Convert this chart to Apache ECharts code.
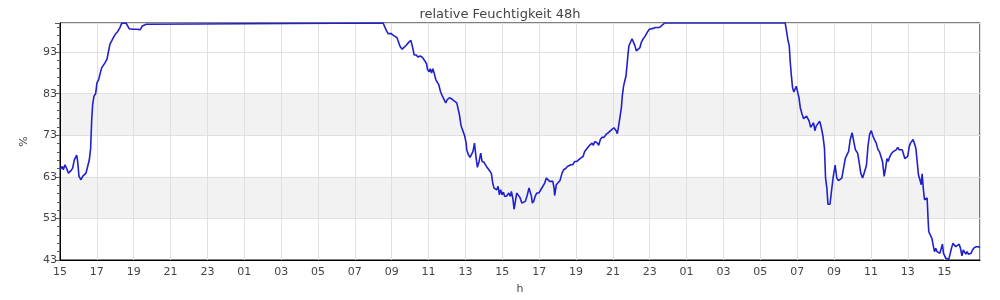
<!DOCTYPE html>
<html>
<head>
<meta charset="utf-8">
<script src="https://cdn.jsdelivr.net/npm/echarts@6/dist/echarts.min.js"></script>
<style>html,body{margin:0;padding:0;background:#fff}#chart{width:1000px;height:300px}</style>
</head>
<body>
<div id="chart"></div>
<script>
// hours since 15:00 of the first day, relative humidity in %
const humidityReadings = [
  [0,64.7],[0.127,65.5],[0.181,64.7],[0.271,65.9],[0.362,65.0],[0.452,63.9],[0.597,64.5],[0.687,65.1],
  [0.777,67.1],[0.904,68.2],[0.958,66.7],[1.030,63.1],[1.139,62.3],[1.229,63.1],[1.320,62.7],[1.410,63.9],
  [1.500,65.5],[1.591,67.1],[1.663,69.9],[1.717,76.4],[1.772,80.4],[1.844,82.4],[1.934,83.0],[2.006,85.6],
  [2.097,86.4],[2.187,88.0],[2.260,89.2],[2.368,89.6],[2.440,90.4],[2.549,91.3],[2.621,92.9],[2.711,94.9],
  [2.820,95.8],[2.910,96.6],[3.019,97.4],[3.127,97.9],[3.254,98.9],[3.344,99.9],[3.435,100],[3.579,100],
  [3.670,99.3],[3.760,98.6],[3.850,98.7],[3.941,98.5],[4.031,98.9],[4.140,98.5],[4.248,98.9],[4.357,98.4],
  [4.465,99.3],[4.573,99.7],[4.682,99.7],[4.790,100],
  [17.53,100],[17.62,99.7],[17.72,98.1],[17.81,97.4],[17.95,97.5],[18.04,97.7],[18.13,96.9],[18.28,96.5],
  [18.37,96.1],[18.46,94.3],[18.57,93.7],[18.67,93.8],[18.80,94.7],[18.93,95.4],[19.04,95.8],[19.13,94.2],
  [19.22,92.3],[19.33,92.3],[19.43,91.8],[19.54,92.1],[19.67,91.7],[19.78,91.0],[19.89,90.2],[19.94,88.8],
  [20.03,88.3],[20.09,89.0],[20.16,88.0],[20.23,89.0],[20.30,88.0],[20.39,86.4],[20.48,86.8],[20.55,85.2],
  [20.64,83.6],[20.73,82.6],[20.82,82.8],[20.93,80.8],[21.02,81.6],[21.13,82.0],[21.24,81.8],[21.35,81.4],
  [21.44,81.6],[21.53,80.8],[21.60,80.4],[21.67,78.0],[21.75,75.6],[21.80,74.8],[21.87,75.2],[21.96,72.8],
  [22.04,71.1],[22.07,69.5],[22.16,68.3],[22.25,67.7],[22.34,67.4],[22.41,69.1],[22.49,71.1],[22.58,67.5],
  [22.65,65.3],[22.74,66.7],[22.83,68.7],[22.90,66.7],[23.01,66.5],
  [23.14,65.5],[23.23,65.1],[23.34,64.3],[23.41,63.7],[23.48,61.5],[23.55,60.3],[23.63,60.7],[23.70,59.9],
  [23.77,60.7],[23.84,58.7],[23.91,59.9],[23.99,58.7],[24.06,59.3],[24.13,58.3],[24.24,58.4],[24.35,59.1],
  [24.44,58.3],[24.49,59.5],[24.57,57.9],[24.64,55.2],[24.71,57.1],[24.78,59.1],[24.87,59.1],[24.96,58.0],
  [25.06,56.7],[25.16,56.3],[25.25,57.1],[25.36,58.7],[25.45,60.3],[25.52,59.9],[25.58,58.3],[25.63,56.7],
  [25.71,57.2],[25.78,58.3],[25.87,59.1],[25.98,59.1],[26.09,59.9],[26.19,60.3],[26.30,61.5],[26.39,62.7],
  [26.48,62.3],[26.57,61.9],[26.66,61.5],[26.74,61.9],[26.81,60.3],[26.84,58.5],[26.93,61.1],[27.02,61.5],
  [27.13,62.1],[27.24,63.9],[27.33,64.7],[27.44,65.0],[27.53,65.5],[27.62,65.3],[27.71,65.9],[27.82,65.9],
  [27.93,66.7],[28.04,66.7],[28.14,67.1],[28.25,67.5],[28.38,67.9],
  [28.47,69.1],[28.56,68.7],[28.65,70.1],[28.76,70.7],[28.87,71.1],[28.94,70.6],[29.02,71.5],[29.10,71.7],
  [29.16,71.1],[29.23,70.6],[29.32,72.0],[29.41,72.5],[29.52,72.5],[29.63,73.2],[29.74,73.6],[29.84,74.0],
  [29.95,74.4],[30.06,74.8],[30.13,74.6],[30.19,74.0],[30.24,73.4],[30.31,75.2],[30.39,75.6],[30.46,79.6],
  [30.51,82.4],[30.58,84.8],[30.64,86.0],[30.71,87.2],[30.77,90.0],[30.82,92.5],[30.87,94.5],[30.95,95.3],
  [31.04,96.2],[31.13,95.8],[31.20,94.5],[31.27,93.3],[31.36,93.4],[31.47,94.1],[31.54,95.3],[31.63,96.1],
  [31.76,96.9],[31.87,97.8],[31.98,98.5],[32.08,98.7],[32.19,98.7],[32.30,98.9],[32.41,98.9],[32.52,98.9],
  [32.63,99.3],[32.72,99.5],[32.81,100],
  [39.35,100],[39.42,98.1],[39.49,96.1],[39.57,94.5],[39.62,90.8],[39.68,87.6],[39.75,84.4],[39.82,83.4],
  [39.90,83.0],[39.95,84.8],[40.04,85.2],[40.10,82.0],[40.17,79.6],[40.26,78.1],[40.35,77.0],[40.44,77.2],
  [40.51,77.6],[40.58,77.2],[40.65,76.4],[40.73,74.9],[40.82,74.9],[40.89,76.0],[40.96,74.1],[41.03,75.2],
  [41.13,75.6],[41.22,76.4],[41.31,74.8],[41.40,72.8],[41.48,69.9],[41.54,62.7],[41.61,60.3],[41.67,56.4],
  [41.78,56.4],[41.87,59.9],[41.96,63.1],[42.06,65.8],[42.15,62.7],[42.24,62.1],[42.33,62.1],[42.42,62.7],
  [42.51,63.1],[42.61,67.4],[42.70,68.3],[42.79,69.1],[42.88,72.0],[42.98,73.6],[43.07,71.5],[43.16,69.5],
  [43.28,68.7],[43.37,66.3],[43.45,63.9],[43.55,62.7],[43.66,64.3],[43.76,65.8],[43.84,70.3],[43.93,73.2],
  [44.02,74.1],[44.11,72.8],[44.20,71.9],[44.29,71.1],[44.38,69.6],[44.47,69.0],[44.56,68.7],[44.63,66.7],
  [44.72,63.1],[44.80,65.1],[44.87,67.4],[44.94,66.7],[45.01,67.7],[45.10,68.5],[45.19,69.0],[45.28,69.1],
  [45.37,69.5],[45.46,70.1],[45.53,69.5],[45.61,69.1],[45.70,69.5],[45.77,69.1],[45.84,67.4],[45.91,67.1],
  [46.00,67.9],[46.08,70.3],[46.15,71.1],[46.22,71.3],[46.29,72.0],[46.37,70.9],[46.44,69.9],[46.51,66.7],
  [46.58,63.5],[46.66,62.3],[46.73,61.1],[46.78,63.7],[46.85,59.9],[46.91,57.5],[46.98,57.9],[47.05,57.9],
  [47.11,52.2],[47.14,49.8],[47.24,49.7],[47.31,48.2],[47.38,46.6],[47.45,45.0],[47.52,45.8],[47.59,45.0],
  [47.67,45.4],[47.74,44.6],[47.81,44.2],[47.88,46.8],[47.94,44.6],[48.01,44.8],[48.07,43.4],[48.14,43.8],
  [48.23,43.2],[48.30,43.6],[48.37,45.8],[48.45,47.0],[48.52,46.6],[48.61,46.2],[48.70,46.6],[48.79,46.8],
  [48.86,45.8],[48.94,44.0],[49.01,45.4],[49.08,45.8],[49.15,44.4],[49.22,45.0],[49.29,44.4],[49.36,44.6],
  [49.44,44.6],[49.51,45.4],[49.62,46.0],[49.73,46.2],[49.84,46.2],[49.92,46.0]
];
const startHour = 15;          // first tick label "15"
const spanHours = 49.92;       // visible time span
const yMin = 43, yMax = 100, yStep = 10;
const titleText = 'relative Feuchtigkeit 48h';
const xName = 'h', yName = '%';

const textColor = '#444';
const font = 'DejaVu Sans';
const chart = echarts.init(document.getElementById('chart'), null, {renderer: 'canvas'});
chart.setOption({
  animation: false,
  title: {
    text: titleText, left: 'center', top: 3,
    textStyle: {fontFamily: font, fontSize: 13, fontWeight: 'normal', color: textColor}
  },
  grid: {left: 60, right: 20, top: 23, bottom: 40, show: true, borderColor: '#000', borderWidth: 1, backgroundColor: 'transparent'},
  xAxis: {
    type: 'value', min: 0, max: spanHours, interval: 2,
    name: xName, nameLocation: 'middle', nameGap: 24,
    nameTextStyle: {fontFamily: font, fontSize: 11, color: textColor},
    axisLine: {show: true, lineStyle: {color: '#000', width: 1}},
    axisTick: {show: false},
    axisLabel: {
      fontFamily: font, fontSize: 11, color: textColor, margin: 7, showMaxLabel: false,
      formatter: v => String((startHour + Math.round(v)) % 24).padStart(2, '0')
    },
    splitLine: {show: true, lineStyle: {color: '#e0e0e0', width: 1}}
  },
  yAxis: {
    type: 'value', min: yMin, max: yMax, interval: yStep,
    name: yName, nameLocation: 'middle', nameGap: 30, nameRotate: 90,
    nameTextStyle: {fontFamily: font, fontSize: 11, color: textColor},
    axisLine: {show: true, lineStyle: {color: '#000', width: 1}},
    axisTick: {show: true, length: 5, lineStyle: {color: '#555'}},
    minorTick: {show: true, splitNumber: 5, length: 3, lineStyle: {color: '#555'}},
    axisLabel: {fontFamily: font, fontSize: 11, color: textColor, margin: 3, showMaxLabel: false},
    splitLine: {show: true, lineStyle: {color: '#e0e0e0', width: 1}},
    splitArea: {show: true, areaStyle: {color: ['rgba(0,0,0,0)', 'rgba(0,0,0,0.05)', 'rgba(0,0,0,0)', 'rgba(0,0,0,0.05)', 'rgba(0,0,0,0)', 'rgba(0,0,0,0)']}}
  },
  series: [{
    type: 'line', data: humidityReadings, showSymbol: false, symbol: 'none',
    lineStyle: {color: '#2020cc', width: 1.6}, itemStyle: {color: '#2020cc'}
  }]
});
</script>
</body>
</html>
